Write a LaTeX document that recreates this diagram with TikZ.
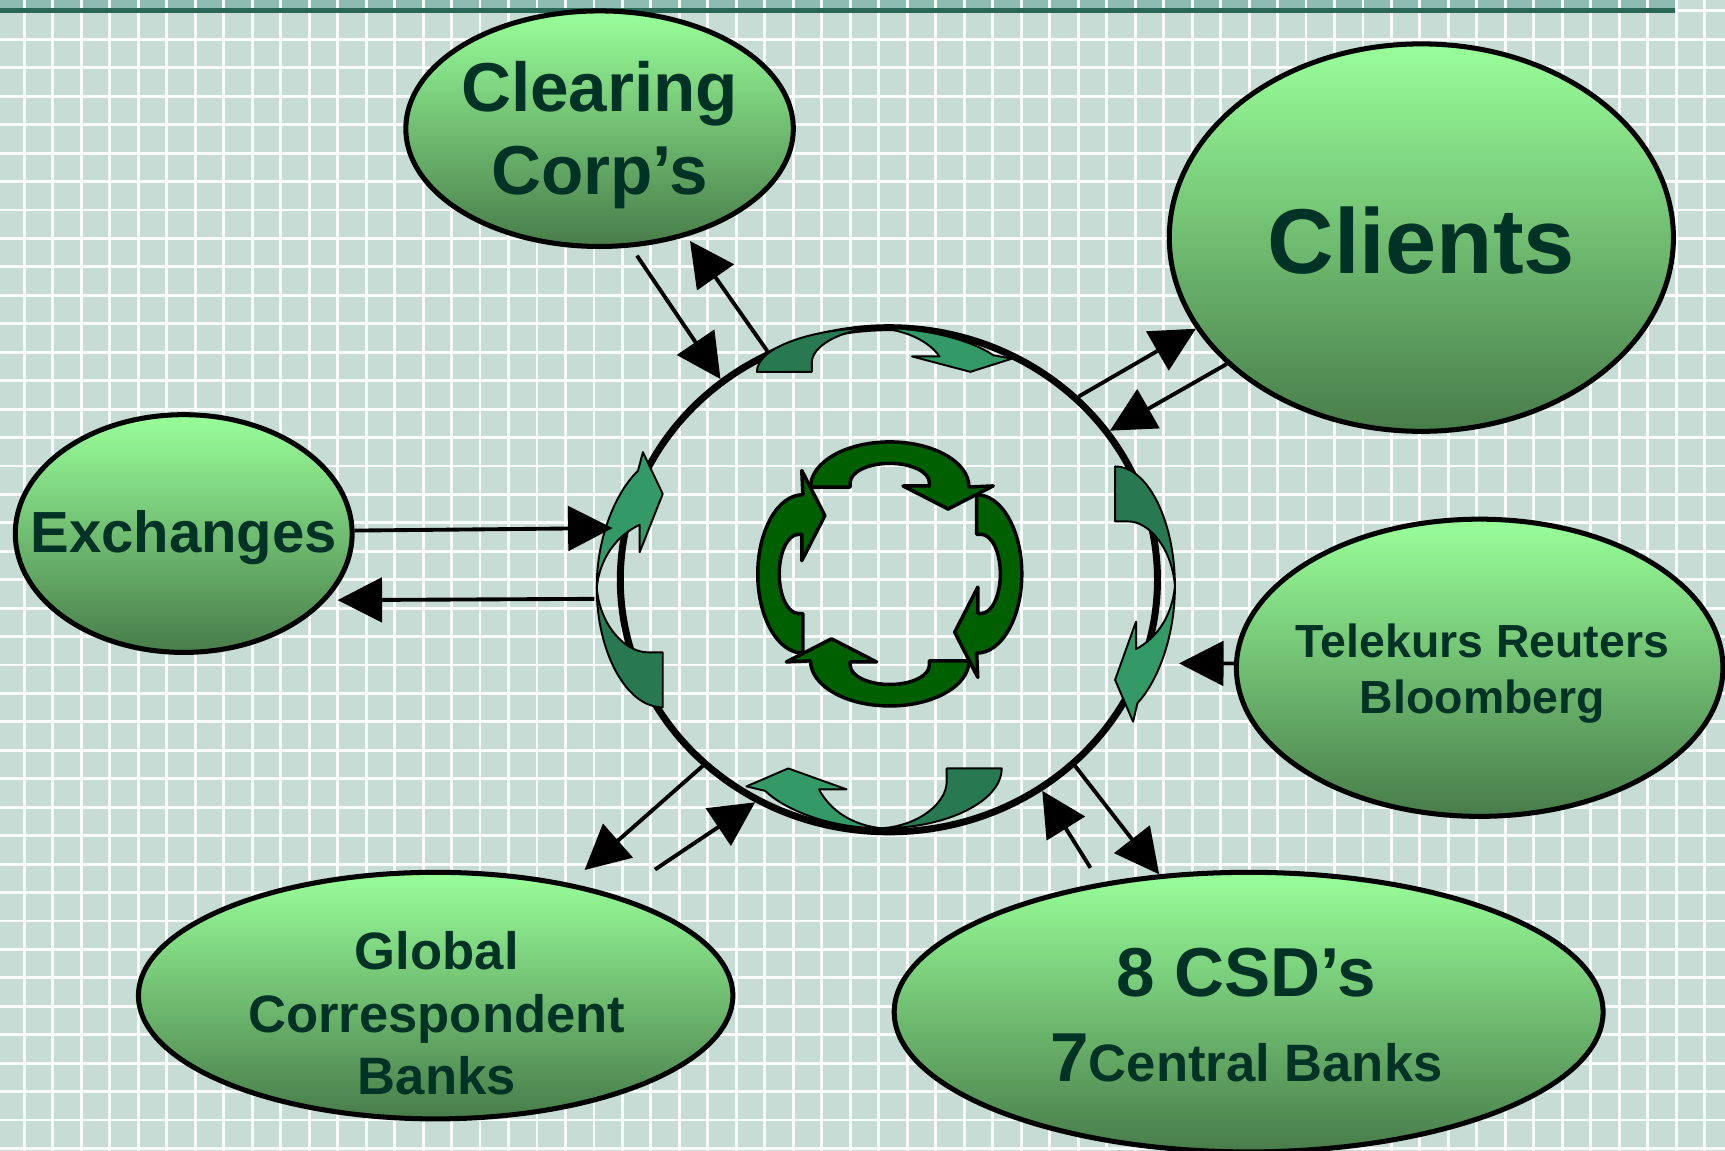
\documentclass[tikz,border=0pt]{standalone}
\usepackage{fontspec}
\setmainfont{Liberation Sans}
\usetikzlibrary{shapes.geometric,arrows.meta}

\definecolor{bggray}{RGB}{200,220,214}
\definecolor{bandgreen}{RGB}{143,188,176}
\definecolor{bandline}{RGB}{42,104,86}
\definecolor{lightgreen}{RGB}{153,255,153}
\definecolor{darkgreen}{RGB}{72,124,74}
\definecolor{txtgreen}{RGB}{0,51,38}
\definecolor{cycdark}{RGB}{40,120,82}
\definecolor{cyclight}{RGB}{51,153,102}
\definecolor{ringgreen}{RGB}{0,96,0}

\begin{document}
\begin{tikzpicture}[x=0.01cm, y=-0.01cm, line join=round,
	party/.style={ellipse, draw=black, line width=1.3pt, top color=lightgreen, bottom color=darkgreen, inner sep=0pt},
	partytext/.style 2 args={text=txtgreen, align=center, inner sep=0pt, font=\bfseries\fontsize{#1}{#2}\selectfont},
	link/.style={line width=1pt, -{Triangle[length=11.5pt, width=11.5pt]}},
	gridline/.style={white, line width=0.75pt, opacity=0.9},
	backface/.style={fill=cycdark, draw=black, line width=0.5pt},
	frontface/.style={fill=cyclight, draw=black, line width=0.5pt},
	ringarrow/.style={fill=ringgreen, draw=black, line width=0.9pt}]
	\useasboundingbox (0,0) rectangle (1568,1046);
	\clip (0,0) rectangle (1568,1046);
	% Nền lưới
	\fill[bggray] (0,0) rectangle (1568,1046);
	\fill[bandgreen] (0,0) rectangle (1523,8);
	\foreach \i in {0,...,60} \draw[gridline] ({22.1+25.89*\i},0) -- ++(0,1046);
	\foreach \j in {-1,...,39} \draw[gridline] (0,{35.8+25.85*\j}) -- ++(1568,0);
	\draw[bandline, line width=1.1pt] (0,9.5) -- (1523,9.5);
	% Các hình elip
	\node[party, minimum width=3.52cm, minimum height=2.14cm] (clear) at (545,117) {};
	\node[party, minimum width=4.58cm, minimum height=3.52cm] (clients) at (1292,216) {};
	\node[party, minimum width=3.06cm, minimum height=2.16cm] (exch) at (167,485) {};
	\node[party, minimum width=4.42cm, minimum height=2.70cm] (telek) at (1345,607) {};
	\node[party, minimum width=5.40cm, minimum height=2.24cm] (global) at (396,905) {};
	\node[party, minimum width=6.44cm, minimum height=2.54cm] (csd) at (1135,920) {};
	% Chữ
	\node[partytext={17.9pt}{21.6pt}] (clear-text) at (545,123) {Clearing\\Corp’s};
	\node[partytext={23.8pt}{28.6pt}] (clients-text) at (1292,219) {Clients};
	\node[partytext={15pt}{18pt}] (exch-text) at (167,489) {Exchanges};
	\node[partytext={12pt}{14.5pt}] (telek-text) at (1347.5,612) {Telekurs Reuters\\Bloomberg};
	\node[partytext={13.6pt}{16.2pt}] (global-text) at (397,921) {Global\\Correspondent\\Banks};
	\node[partytext={17.9pt}{21.9pt}] (csd-text) at (1133,922.5) {8 CSD’s\\7{\fontsize{13.6pt}{16pt}\selectfont Central Banks}};
	% Vòng tròn giữa
	\node[ellipse, draw=black, line width=1.8pt, minimum width=4.88cm, minimum height=4.58cm, inner sep=0pt] (hub) at (808,527) {};
	\foreach \cx/\cy/\r/\d in {796/338/0/1, 1013.6/532/-90/1.36, 802.5/698.5/180/1.36, 602.4/535/90/1.5} {
		\begin{scope}[shift={(\cx,\cy)}, rotate=\r, yscale=\d]
			\draw[backface] (-108,0) -- (-58,0) -- (-58,-9) .. controls (-58,-22) and (-35,-38) .. (1,-40)
				.. controls (-58,-40) and (-108,-22) .. (-108,0) -- cycle;
			\draw[frontface] (1,-40) .. controls (50,-40) and (90,-27) .. (107,-15) -- (124,-12) -- (86,0)
				-- (33,-14) -- (58,-14) .. controls (48,-28) and (28,-38) .. (1,-40) -- cycle;
		\end{scope}
	}
	% Vòng mũi tên bên trong
	\foreach \k in {0,1,2,3}
		\draw[ringarrow, shift={(808.8,521.7)}, rotate=-90*\k]
			(-72,-79) arc[start angle=180, end angle=360, x radius=72, y radius=41]
			-- (94,-80) -- (53,-59) -- (12,-80) -- (36,-80) -- (36,-83)
			arc[start angle=360, end angle=180, x radius=36, y radius=17.5]
			-- (-36,-79) -- cycle;
	% Mũi tên nối
	\draw[link, shorten <=0.09cm] (clear.-75) -- (hub.130);
	\draw[link, shorten >=0.05cm] (hub.118) -- (clear.-51);
	\draw[link] (hub.44) -- (clients.202);
	\draw[link] (clients.213) -- (hub.34);
	\draw[link, shorten >=0.09cm] (exch.1) -- (hub.169);
	\draw[link, shorten <=0.21cm, shorten >=0.1cm] (hub.184) -- (exch.-25);
	\draw[link, shorten >=0.3cm] (telek.179) -- (hub.-18);
	\draw[link, shorten >=0.18cm] (hub.225) -- (global.40);
	\draw[link, shorten <=0.42cm] (global.29) -- (hub.239);
	\draw[link] (hub.-45) -- (csd.123);
	\draw[link, shorten <=0.16cm] (csd.139) -- (hub.-54);
\end{tikzpicture}
\end{document}
